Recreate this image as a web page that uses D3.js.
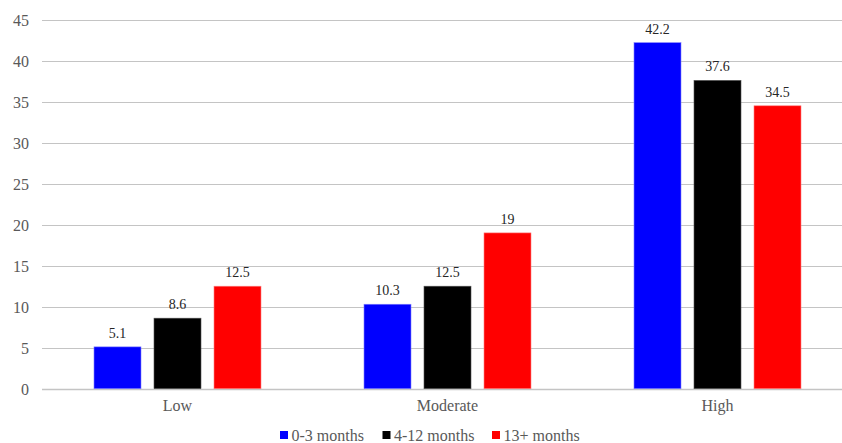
<!DOCTYPE html>
<html><head><meta charset="utf-8">
<script src="https://cdn.jsdelivr.net/npm/d3@7"></script>
<style>body{margin:0;background:#fff}svg{display:block}
svg text{font-family:"Times New Roman","Liberation Serif",Tinos,"DejaVu Serif",serif !important}</style>
</head><body>
<script>
const categories = ["Low", "Moderate", "High"];
const seriesNames = ["0-3 months", "4-12 months", "13+ months"];
const seriesColors = ["#0000ff", "#000000", "#ff0000"];
const values0to3 = [5.1, 10.3, 42.2];
const values4to12 = [8.6, 12.5, 37.6];
const values13plus = [12.5, 19, 34.5];
const yTicks = [0, 5, 10, 15, 20, 25, 30, 35, 40, 45];

const series = [values0to3, values4to12, values13plus];
const W = 842, H = 443;
const svg = d3.select("body").append("svg").attr("width", W).attr("height", H);

const y = d3.scaleLinear().domain([0, 45]).range([388.7, 19.7]);
const x0 = d3.scaleBand().domain(categories).range([42.5, 852.5]).paddingInner(0).paddingOuter(0);
const x1 = d3.scaleBand().domain(d3.range(3)).range([x0.bandwidth()/2 - 83.5, x0.bandwidth()/2 + 83.5]).paddingInner(13/60).paddingOuter(0);

// gridlines
svg.append("g").selectAll("line").data(yTicks).join("line")
  .attr("x1", 42).attr("x2", W)
  .attr("y1", d => Math.round(y(d)) + 0.5).attr("y2", d => Math.round(y(d)) + 0.5)
  .attr("stroke", "#c4c4c4").attr("stroke-width", d => d === 0 ? 1.3 : 1);

// y axis labels
const yAxis = d3.axisLeft(y).tickValues(yTicks).tickSize(0).tickPadding(0);
const ya = svg.append("g").attr("transform", "translate(29,0)").call(yAxis);
ya.select(".domain").remove();
ya.selectAll("text").style("font-size", "16px").attr("fill", "#595959").attr("dy", "0.35em");

// bars
const groups = svg.append("g").selectAll("g").data(categories).join("g")
  .attr("transform", d => `translate(${x0(d)},0)`);
groups.each(function(cat, ci) {
  const g = d3.select(this);
  series.forEach((vals, si) => {
    const v = vals[ci];
    g.append("rect")
      .attr("x", x1(si)).attr("width", x1.bandwidth())
      .attr("y", y(v)).attr("height", y(0) - y(v))
      .attr("fill", seriesColors[si])
      .attr("stroke", si === 0 ? "#7f7fff" : si === 1 ? "#555" : "#ff8080").attr("stroke-width", 0.6);
    g.append("text")
      .attr("x", x1(si) + x1.bandwidth()/2).attr("y", y(v) - 9)
      .attr("text-anchor", "middle").style("font-size", "14px").attr("fill", "#262626")
      .text(v);
  });
});

// x axis labels
const xAxis = d3.axisBottom(x0).tickSize(0).tickPadding(0);
const xa = svg.append("g").attr("transform", "translate(0,400)").call(xAxis);
xa.select(".domain").remove();
xa.selectAll("text").style("font-size", "16px").attr("fill", "#595959").attr("dy", "0.71em").attr("y", 0);

// legend
const legendX = [280, 382.5, 492];
const lg = svg.append("g").selectAll("g").data(seriesNames).join("g")
  .attr("transform", (d, i) => `translate(${legendX[i]},435)`);
lg.append("rect").attr("x", 0).attr("y", -4).attr("width", 8).attr("height", 8).attr("fill", (d, i) => seriesColors[i]);
lg.append("text").attr("x", 11.5).attr("y", 0).attr("dy", "0.35em")
  .style("font-size", "16px").attr("fill", "#595959").text(d => d);
</script>
</body></html>
